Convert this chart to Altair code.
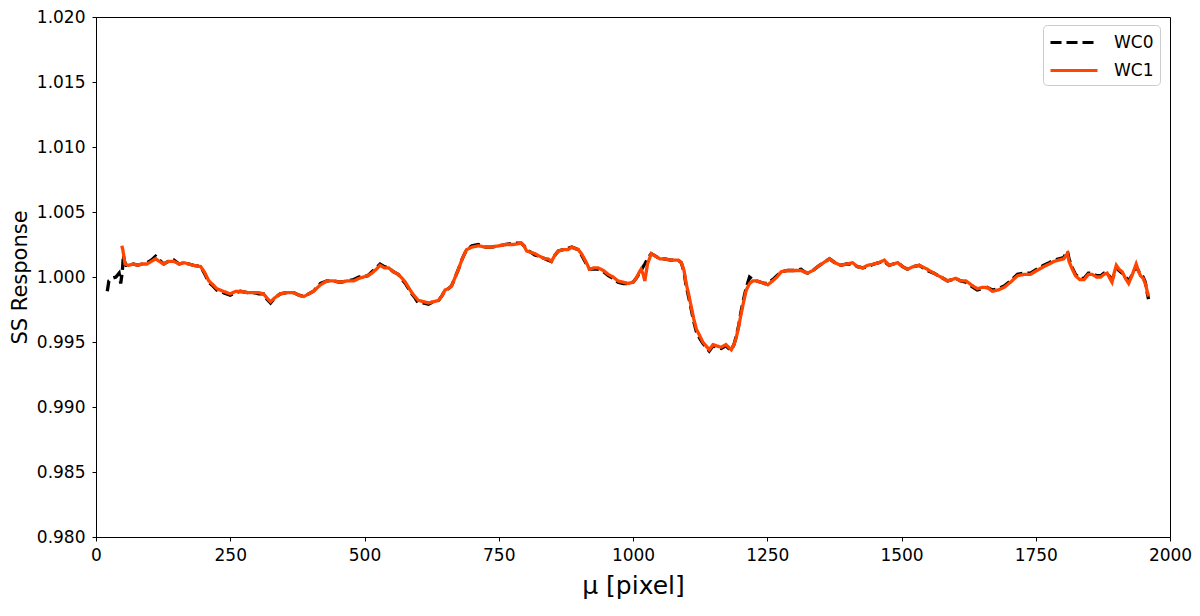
import altair as alt
import pandas as pd

series = ["WC0", "WC1"]
colors = ["#000000", "#ff4500"]
dashes = [[11, 5], [1, 0]]
x_ticks = [0, 250, 500, 750, 1000, 1250, 1500, 1750, 2000]
y_ticks = [0.980, 0.985, 0.990, 0.995, 1.000, 1.005, 1.010, 1.015, 1.020]

wc1_x = [48, 50, 54, 60, 70, 77, 86, 95, 103, 111, 118, 126, 135, 145, 155, 164, 173, 182, 195, 203,
         210, 218, 225, 237, 250, 260, 269, 282, 294, 303, 312, 318, 325, 333, 343, 355, 368, 378, 387, 396,
         405, 418, 430, 442, 455, 468, 480, 490, 498, 506, 514, 522, 529, 537, 545, 554, 563, 570, 576, 582,
         588, 594, 600, 610, 619, 628, 638, 645, 650, 656, 662, 668, 675, 682, 690, 700, 712, 725, 737, 750,
         762, 777, 792, 797, 802, 810, 817, 826, 836, 842, 848, 855, 861, 870, 879, 886, 892, 898, 904, 912,
         919, 927, 935, 945, 954, 963, 972, 982, 991, 1000, 1006, 1012, 1015, 1019, 1022, 1027, 1034, 1042, 1050, 1059,
         1070, 1084, 1090, 1095, 1099, 1104, 1108, 1113, 1118, 1124, 1130, 1136, 1142, 1149, 1156, 1164, 1173, 1178, 1183, 1188,
         1192, 1197, 1201, 1206, 1211, 1217, 1223, 1230, 1238, 1245, 1251, 1260, 1268, 1276, 1288, 1300, 1313, 1319, 1325, 1335,
         1344, 1355, 1366, 1376, 1387, 1398, 1409, 1418, 1428, 1437, 1449, 1458, 1468, 1477, 1485, 1493, 1502, 1511, 1522, 1533,
         1548, 1560, 1573, 1586, 1594, 1601, 1610, 1620, 1630, 1641, 1650, 1660, 1669, 1680, 1691, 1703, 1716, 1728, 1740, 1752,
         1765, 1775, 1784, 1793, 1802, 1809, 1812, 1817, 1824, 1832, 1840, 1848, 1855, 1863, 1871, 1877, 1883, 1888, 1892, 1896,
         1900, 1905, 1911, 1917, 1923, 1930, 1937, 1941, 1945, 1950, 1954, 1957, 1960]
wc1_y = [1.0024, 1.0021, 1.0010, 1.0009, 1.0010, 1.0009, 1.0010, 1.0010, 1.0012, 1.0014, 1.0012, 1.0010, 1.0012, 1.0012, 1.0010, 1.0011, 1.0010, 1.0009, 1.0008, 1.0003,
         0.9997, 0.9994, 0.9991, 0.9989, 0.9987, 0.9989, 0.9989, 0.9988, 0.9988, 0.9988, 0.9987, 0.9984, 0.9981, 0.9984, 0.9987, 0.9988, 0.9988, 0.9986, 0.9985, 0.9987,
         0.9989, 0.9994, 0.9997, 0.9997, 0.9996, 0.9997, 0.9997, 0.9999, 1.0000, 1.0001, 1.0003, 1.0006, 1.0009, 1.0007, 1.0007, 1.0004, 1.0002, 0.9999, 0.9996, 0.9992,
         0.9988, 0.9985, 0.9982, 0.9981, 0.9980, 0.9981, 0.9982, 0.9986, 0.9990, 0.9991, 0.9993, 0.9999, 1.0006, 1.0014, 1.0021, 1.0023, 1.0024, 1.0023, 1.0023, 1.0024,
         1.0025, 1.0025, 1.0026, 1.0024, 1.0020, 1.0019, 1.0018, 1.0016, 1.0014, 1.0014, 1.0012, 1.0017, 1.0020, 1.0021, 1.0021, 1.0023, 1.0022, 1.0021, 1.0018, 1.0012,
         1.0006, 1.0007, 1.0007, 1.0005, 1.0002, 1.0000, 0.9997, 0.9996, 0.9995, 0.9996, 0.9999, 1.0004, 1.0006, 1.0002, 0.9997, 1.0010, 1.0018, 1.0016, 1.0014, 1.0014,
         1.0013, 1.0013, 1.0011, 1.0005, 0.9995, 0.9986, 0.9978, 0.9968, 0.9960, 0.9955, 0.9950, 0.9947, 0.9944, 0.9948, 0.9947, 0.9946, 0.9948, 0.9946, 0.9944, 0.9948,
         0.9953, 0.9962, 0.9971, 0.9981, 0.9990, 0.9995, 0.9997, 0.9997, 0.9996, 0.9995, 0.9994, 0.9997, 1.0000, 1.0004, 1.0005, 1.0005, 1.0005, 1.0004, 1.0003, 1.0005,
         1.0008, 1.0011, 1.0014, 1.0011, 1.0009, 1.0010, 1.0011, 1.0008, 1.0007, 1.0009, 1.0010, 1.0011, 1.0013, 1.0009, 1.0010, 1.0011, 1.0008, 1.0006, 1.0008, 1.0009,
         1.0006, 1.0003, 1.0000, 0.9997, 0.9998, 0.9999, 0.9997, 0.9997, 0.9994, 0.9991, 0.9992, 0.9992, 0.9989, 0.9990, 0.9992, 0.9996, 1.0001, 1.0002, 1.0002, 1.0005,
         1.0008, 1.0010, 1.0012, 1.0013, 1.0014, 1.0018, 1.0012, 1.0007, 1.0001, 0.9998, 0.9998, 1.0002, 1.0002, 1.0000, 1.0000, 1.0002, 1.0003, 0.9999, 0.9996, 1.0003,
         1.0009, 1.0006, 1.0004, 0.9999, 0.9995, 1.0002, 1.0010, 1.0005, 1.0001, 0.9999, 0.9995, 0.9990, 0.9985]

wc0_x = [21, 24, 30, 37, 43, 46, 49, 51, 53, 56, 60, 70, 77, 86, 95, 103, 111, 118, 126, 135, 145, 155, 164, 173, 182, 195, 203,
         210, 218, 225, 237, 250, 260, 269, 282, 294, 303, 312, 318, 325, 333, 343, 355, 368, 378, 387, 396,
         405, 418, 430, 442, 455, 468, 480, 490, 498, 506, 514, 522, 529, 537, 545, 554, 563, 570, 576, 582,
         588, 594, 600, 610, 619, 628, 638, 645, 650, 656, 662, 668, 675, 682, 690, 700, 712, 725, 737, 750,
         762, 777, 792, 797, 802, 810, 817, 826, 836, 842, 848, 855, 861, 870, 879, 886, 892, 898, 904, 912,
         919, 927, 935, 945, 954, 963, 972, 982, 991, 1000, 1006, 1012, 1015, 1019, 1022, 1027, 1034, 1042, 1050, 1059,
         1070, 1084, 1090, 1095, 1099, 1104, 1108, 1113, 1118, 1124, 1130, 1136, 1142, 1149, 1156, 1164, 1173, 1178, 1183, 1188,
         1192, 1197, 1201, 1206, 1211, 1217, 1223, 1230, 1238, 1245, 1251, 1260, 1268, 1276, 1288, 1300, 1313, 1319, 1325, 1335,
         1344, 1355, 1366, 1376, 1387, 1398, 1409, 1418, 1428, 1437, 1449, 1458, 1468, 1477, 1485, 1493, 1502, 1511, 1522, 1533,
         1548, 1560, 1573, 1586, 1594, 1601, 1610, 1620, 1630, 1641, 1650, 1660, 1669, 1680, 1691, 1703, 1716, 1728, 1740, 1752,
         1765, 1775, 1784, 1793, 1802, 1809, 1812, 1817, 1824, 1832, 1840, 1848, 1855, 1863, 1871, 1877, 1883, 1888, 1892, 1896,
         1900, 1905, 1911, 1917, 1923, 1930, 1937, 1941, 1945, 1950, 1954, 1957, 1960]
wc0_y = [0.9989, 0.9997, 0.9999, 1.0000, 1.0003, 0.9995, 1.0004, 1.0017, 1.0012, 1.0009, 1.0009, 1.0010, 1.0009, 1.0010, 1.0011, 1.0013, 1.0016, 1.0013, 1.0010, 1.0012, 1.0013, 1.0010, 1.0011, 1.0010, 1.0009, 1.0008, 1.0002,
         0.9996, 0.9993, 0.9990, 0.9988, 0.9986, 0.9988, 0.9989, 0.9988, 0.9988, 0.9987, 0.9987, 0.9983, 0.9980, 0.9984, 0.9987, 0.9988, 0.9988, 0.9986, 0.9985, 0.9987,
         0.9989, 0.9995, 0.9997, 0.9997, 0.9996, 0.9997, 0.9998, 1.0000, 1.0000, 1.0001, 1.0004, 1.0007, 1.0010, 1.0008, 1.0007, 1.0004, 1.0002, 0.9998, 0.9995, 0.9991,
         0.9987, 0.9984, 0.9980, 0.9980, 0.9979, 0.9981, 0.9982, 0.9986, 0.9990, 0.9991, 0.9993, 0.9999, 1.0006, 1.0014, 1.0021, 1.0024, 1.0025, 1.0023, 1.0023, 1.0024,
         1.0025, 1.0026, 1.0026, 1.0024, 1.0021, 1.0019, 1.0017, 1.0016, 1.0014, 1.0013, 1.0012, 1.0017, 1.0020, 1.0021, 1.0022, 1.0023, 1.0022, 1.0021, 1.0017, 1.0011,
         1.0006, 1.0006, 1.0006, 1.0004, 1.0001, 0.9999, 0.9996, 0.9995, 0.9995, 0.9996, 0.9999, 1.0003, 1.0005, 1.0008, 1.0010, 1.0014, 1.0018, 1.0016, 1.0014, 1.0014,
         1.0013, 1.0013, 1.0011, 1.0004, 0.9993, 0.9984, 0.9976, 0.9966, 0.9958, 0.9953, 0.9949, 0.9946, 0.9943, 0.9947, 0.9946, 0.9945, 0.9947, 0.9945, 0.9944, 0.9948,
         0.9954, 0.9963, 0.9973, 0.9983, 0.9992, 1.0000, 0.9998, 0.9997, 0.9996, 0.9995, 0.9995, 0.9998, 1.0001, 1.0004, 1.0005, 1.0005, 1.0006, 1.0004, 1.0003, 1.0005,
         1.0008, 1.0011, 1.0014, 1.0011, 1.0009, 1.0010, 1.0010, 1.0008, 1.0007, 1.0008, 1.0010, 1.0011, 1.0012, 1.0009, 1.0010, 1.0011, 1.0008, 1.0006, 1.0008, 1.0009,
         1.0005, 1.0003, 1.0000, 0.9997, 0.9998, 0.9999, 0.9997, 0.9996, 0.9993, 0.9990, 0.9991, 0.9992, 0.9990, 0.9991, 0.9993, 0.9997, 1.0002, 1.0003, 1.0003, 1.0006,
         1.0009, 1.0011, 1.0013, 1.0014, 1.0015, 1.0020, 1.0014, 1.0008, 1.0002, 0.9999, 0.9999, 1.0003, 1.0003, 1.0001, 1.0001, 1.0003, 1.0003, 1.0000, 0.9998, 1.0002,
         1.0007, 1.0005, 1.0003, 1.0000, 0.9997, 1.0002, 1.0008, 1.0005, 1.0002, 1.0000, 0.9996, 0.9989, 0.9983]

df = pd.DataFrame({
    "x": wc0_x + wc1_x,
    "y": wc0_y + wc1_y,
    "series": [series[0]] * len(wc0_x) + [series[1]] * len(wc1_x),
})

legend = alt.Legend(
    title=None,
    orient="none",
    legendX=947,
    legendY=8,
    padding=6,
    strokeColor="#cccccc",
    fillColor="white",
    cornerRadius=4,
    symbolType="M-1,0H3.7",
    symbolSize=400,
    symbolStrokeWidth=3,
    labelFontSize=17,
    labelOffset=42,
    rowPadding=8,
    labelColor="black",
)

chart = alt.Chart(df).mark_line(strokeWidth=3.3).encode(
    x=alt.X("x:Q",
            scale=alt.Scale(domain=[0, 2000], nice=False),
            axis=alt.Axis(values=x_ticks, format="d", title="μ [pixel]", labelFlush=False,
                          titleFontSize=25, titlePadding=10, labelPadding=6)),
    y=alt.Y("y:Q",
            scale=alt.Scale(domain=[0.98, 1.02], nice=False, zero=False),
            axis=alt.Axis(values=y_ticks, format=".3f", title="SS Response",
                          titleFontSize=21, titlePadding=6, labelPadding=7)),
    color=alt.Color("series:N", scale=alt.Scale(domain=series, range=colors), legend=legend),
    strokeDash=alt.StrokeDash("series:N", scale=alt.Scale(domain=series, range=dashes), legend=legend),
).properties(
    width=1074,
    height=520,
    autosize=alt.AutoSizeParams(type="none"),
    padding={"left": 88, "top": 9, "right": 22, "bottom": 63},
).configure(
    font="DejaVu Sans",
).configure_axis(
    grid=False,
    domainColor="black",
    tickColor="black",
    tickSize=4,
    labelFontSize=17,
    labelColor="black",
    titleColor="black",
    titleFontWeight="normal",
).configure_view(
    stroke="black",
    strokeWidth=1,
)

chart.save("out.html", embed_options={"renderer": "svg", "actions": False})
